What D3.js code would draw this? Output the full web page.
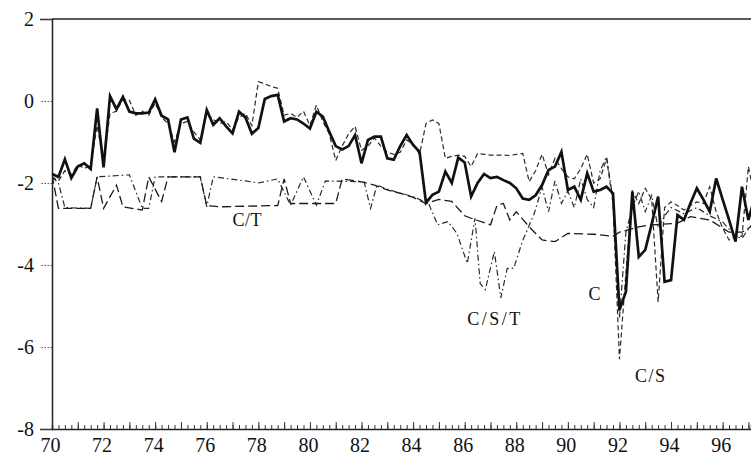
<!DOCTYPE html>
<html>
<head>
<meta charset="utf-8">
<script src="https://cdn.jsdelivr.net/npm/d3@7"></script>
<style>
  html, body { margin: 0; padding: 0; background: #fff; }
  svg { display: block; }
  .tick text { font-family: "Liberation Serif", "Times New Roman", serif; font-size: 20px; fill: #111; }
  .lbl { font-family: "Liberation Serif", "Times New Roman", serif; font-size: 18px; fill: #111; letter-spacing: 1.5px; }
</style>
</head>
<body>
<svg id="chart" width="751" height="466"></svg>
<script>
// Quarterly series C (thick solid line)
const cYears = [
  70.00,70.25,70.50,70.75,71.00,71.25,71.50,71.75,72.00,72.25,72.50,72.75,
  73.00,73.25,73.50,73.75,74.00,74.25,74.50,74.75,75.00,75.25,75.50,75.75,
  76.00,76.25,76.50,76.75,77.00,77.25,77.50,77.75,78.00,78.25,78.50,78.75,
  79.00,79.25,79.50,79.75,80.00,80.25,80.50,80.75,81.00,81.25,81.50,81.75,
  82.00,82.25,82.50,82.75,83.00,83.25,83.50,83.75,84.00,84.25,84.50,84.75,
  85.00,85.25,85.50,85.75,86.00,86.25,86.50,86.75,87.00,87.25,87.50,87.75,
  88.00,88.25,88.50,88.75,89.00,89.25,89.50,89.75,90.00,90.25,90.50,90.75,
  91.00,91.25,91.50,91.75,92.00,92.25,92.50,92.75,93.00,93.25,93.50,93.75,
  94.00,94.25,94.50,94.75,95.00,95.25,95.50,95.75,96.00,96.25,96.50,96.75,
  97.00,97.25
];
const cValues = [
  -1.78,-1.85,-1.42,-1.88,-1.60,-1.52,-1.66,-0.18,-1.62,0.12,-0.20,0.10,
  -0.26,-0.30,-0.30,-0.28,0.04,-0.36,-0.45,-1.25,-0.45,-0.40,-0.92,-1.02,
  -0.22,-0.58,-0.42,-0.62,-0.79,-0.26,-0.40,-0.80,-0.66,0.05,0.12,0.15,
  -0.50,-0.42,-0.45,-0.55,-0.67,-0.26,-0.38,-0.75,-1.10,-1.18,-1.10,-0.83,
  -1.52,-0.95,-0.87,-0.87,-1.40,-1.43,-1.10,-0.83,-1.07,-1.24,-2.48,-2.29,
  -2.21,-1.72,-2.00,-1.38,-1.50,-2.33,-2.00,-1.78,-1.88,-1.85,-1.93,-2.00,
  -2.13,-2.38,-2.41,-2.30,-2.05,-1.68,-1.60,-1.24,-2.17,-2.09,-2.41,-1.76,
  -2.21,-2.17,-2.09,-2.25,-5.10,-4.65,-2.21,-3.80,-3.63,-3.00,-2.33,-4.41,
  -4.37,-2.78,-2.90,-2.50,-2.13,-2.40,-2.70,-1.89,-2.40,-2.90,-3.43,-2.09,
  -2.90,-2.33
];

// Quarterly series C/S (dashed)
const csValues = [
  -1.85,-1.95,-1.70,-1.80,-1.55,-1.65,-1.55,-0.60,-1.50,-0.30,-0.25,0.05,
  0.02,-0.35,-0.25,-0.35,-0.05,-0.40,-0.55,-1.00,-0.55,-0.50,-0.75,-0.95,
  -0.30,-0.45,-0.55,-0.50,-0.70,-0.40,-0.30,-0.60,0.47,0.42,0.35,0.31,
  -0.35,-0.30,-0.40,-0.25,-0.60,-0.10,-0.50,-0.80,-1.45,-1.10,-0.80,-0.62,
  -1.20,-1.10,-0.90,-1.10,-1.25,-1.30,-1.25,-0.95,-1.05,-1.30,-0.55,-0.46,
  -0.55,-1.40,-1.35,-1.32,-1.35,-1.60,-1.28,-1.30,-1.32,-1.32,-1.32,-1.33,
  -1.30,-1.28,-1.97,-1.70,-1.30,-1.80,-1.40,-1.65,-1.85,-1.90,-1.65,-1.30,
  -2.00,-1.90,-1.40,-2.50,-6.30,-4.20,-2.20,-2.50,-2.13,-2.40,-4.90,-2.60,
  -2.46,-2.55,-2.66,-2.55,-2.46,-2.50,-2.09,-2.70,-3.10,-3.39,-3.31,-3.30,
  -1.60,-2.40
];

// Series C/T (long dashes), turning points
const ctYears = [
  70.00,70.25,71.50,71.75,72.00,72.50,72.75,73.50,73.75,74.25,74.50,75.75,
  76.00,76.50,78.75,79.00,79.25,81.00,81.25,82.00,82.50,83.00,83.50,84.00,
  84.50,85.00,85.50,86.00,86.25,87.00,87.25,87.50,87.75,88.00,88.50,89.00,
  89.50,90.00,91.00,91.75,92.00,92.75,93.25,94.25,94.75,95.50,96.25,96.75,
  97.25
];
const ctValues = [
  -1.80,-2.62,-2.62,-1.85,-2.62,-2.05,-2.58,-2.66,-1.85,-2.45,-1.85,-1.85,
  -2.55,-2.58,-2.55,-1.90,-2.50,-2.50,-1.90,-1.97,-2.05,-2.17,-2.25,-2.35,
  -2.50,-2.40,-2.45,-2.80,-2.86,-3.02,-2.55,-2.50,-2.90,-2.70,-3.07,-3.39,
  -3.43,-3.23,-3.25,-3.30,-3.20,-3.07,-3.02,-2.98,-2.82,-2.90,-3.20,-3.20,
  -3.00
];

// Series C/S/T (dash-dot), turning points
const cstYears = [
  70.00,70.25,70.50,71.50,71.75,73.00,73.50,73.75,74.00,74.25,74.50,75.75,
  76.00,76.25,77.50,78.00,78.75,79.25,79.75,80.25,80.60,82.10,82.35,82.60,
  83.00,83.50,84.00,84.60,84.95,85.35,85.70,86.10,86.40,86.60,86.80,87.15,
  87.40,87.65,87.90,88.25,88.70,89.00,89.25,89.50,89.75,90.00,90.25,90.50,
  90.75,91.00,91.25,91.50,91.75,92.00,92.25,92.50,92.75,93.00,93.25,93.50,
  93.75,94.00,94.50,95.00,95.50,96.00,96.50,96.75,97.25
];
const cstValues = [
  -1.85,-2.00,-2.60,-2.62,-1.85,-1.80,-2.62,-2.62,-1.85,-1.85,-1.85,-1.85,
  -2.58,-1.85,-1.95,-2.00,-1.90,-2.54,-1.85,-2.54,-1.95,-1.97,-2.62,-2.05,
  -2.15,-2.25,-2.33,-2.50,-3.02,-2.94,-3.23,-3.96,-2.86,-4.45,-4.60,-3.67,
  -4.80,-4.08,-4.08,-3.40,-2.74,-2.10,-2.70,-1.95,-2.50,-2.20,-2.60,-1.90,
  -2.40,-2.60,-1.70,-1.36,-2.40,-5.30,-3.20,-2.60,-2.20,-2.70,-2.30,-3.10,
  -2.80,-2.60,-2.75,-2.60,-2.80,-2.95,-3.30,-3.35,-2.90
];

const yTicks = [2, 0, -2, -4, -6, -8];
const xLabels = [70, 72, 74, 76, 78, 80, 82, 84, 86, 88, 90, 92, 94, 96];

const svg = d3.select("#chart");
const margin = { left: 52, top: 19, bottom: 429 };

const x = d3.scaleLinear().domain([70, 97.1]).range([margin.left, 751]);
const y = d3.scaleLinear().domain([-8, 2]).range([margin.bottom, margin.top]);

svg.append("clipPath").attr("id", "plotclip")
  .append("rect").attr("x", margin.left).attr("y", margin.top)
  .attr("width", 751 - margin.left).attr("height", margin.bottom - margin.top);

// top frame line
svg.append("line")
  .attr("x1", margin.left).attr("x2", 751)
  .attr("y1", y(2)).attr("y2", y(2))
  .attr("stroke", "#222").attr("stroke-width", 1.5);

// y axis
const yAxis = svg.append("g")
  .attr("transform", `translate(${margin.left},0)`)
  .call(d3.axisLeft(y).tickValues(yTicks).tickSize(12).tickPadding(6)
    .tickFormat(d => String(d)));
yAxis.select(".domain").attr("stroke", "#222").attr("stroke-width", 1.5);
yAxis.selectAll(".tick line").attr("stroke", "#555").attr("stroke-dasharray", "1.5,1.5");

// x axis: quarterly and yearly ticks pointing up, labels every two years
const quarters = d3.range(0, (97.1 - 70) * 4 + 1).map(i => 70 + i / 4);
const years = d3.range(70, 98);
const xq = svg.append("g")
  .attr("transform", `translate(0,${margin.bottom})`)
  .call(d3.axisTop(x).tickValues(quarters).tickSize(4).tickFormat(""));
xq.select(".domain").attr("stroke", "#222").attr("stroke-width", 1.5);
xq.selectAll(".tick line").attr("stroke", "#333");
const xy = svg.append("g")
  .attr("transform", `translate(0,${margin.bottom})`)
  .call(d3.axisTop(x).tickValues(years).tickSize(7).tickFormat(""));
xy.select(".domain").remove();
xy.selectAll(".tick line").attr("stroke", "#333");
const xl = svg.append("g")
  .attr("transform", `translate(0,${margin.bottom})`)
  .call(d3.axisBottom(x).tickValues(xLabels).tickSize(0).tickPadding(9).tickFormat(d3.format("d")));
xl.select(".domain").remove();
xl.selectAll(".tick text").attr("dx", "-2px");

// series lines
const lines = svg.append("g").attr("clip-path", "url(#plotclip)");
const line = d3.line().x(d => x(d[0])).y(d => y(d[1]));

const seriesCST = cstYears.map((t, i) => [t, cstValues[i]]);
const seriesCT = ctYears.map((t, i) => [t, ctValues[i]]);
const seriesCS = cYears.map((t, i) => [t, csValues[i]]);
const seriesC = cYears.map((t, i) => [t, cValues[i]]);

lines.append("path").datum(seriesCST).attr("d", line)
  .attr("fill", "none").attr("stroke", "#2a2a2a").attr("stroke-width", 1.2)
  .attr("stroke-dasharray", "6,3,1.5,3");
lines.append("path").datum(seriesCT).attr("d", line)
  .attr("fill", "none").attr("stroke", "#1a1a1a").attr("stroke-width", 1.3)
  .attr("stroke-dasharray", "9,4");
lines.append("path").datum(seriesCS).attr("d", line)
  .attr("fill", "none").attr("stroke", "#2a2a2a").attr("stroke-width", 1.2)
  .attr("stroke-dasharray", "5,3");
lines.append("path").datum(seriesC).attr("d", line)
  .attr("fill", "none").attr("stroke", "#111").attr("stroke-width", 2.7)
  .attr("stroke-linejoin", "miter");

// series labels
const labels = [
  { text: "C/T", t: 77.0, v: -3.05, ls: 0.5 },
  { text: "C/S/T", t: 86.1, v: -5.46, ls: 2.5 },
  { text: "C", t: 90.8, v: -4.85, ls: 0 },
  { text: "C/S", t: 92.6, v: -6.85, ls: 1.5 }
];
svg.append("g").selectAll("text").data(labels).join("text")
  .attr("class", "lbl")
  .attr("x", d => x(d.t)).attr("y", d => y(d.v))
  .style("letter-spacing", d => d.ls + "px")
  .text(d => d.text);
</script>
</body>
</html>
